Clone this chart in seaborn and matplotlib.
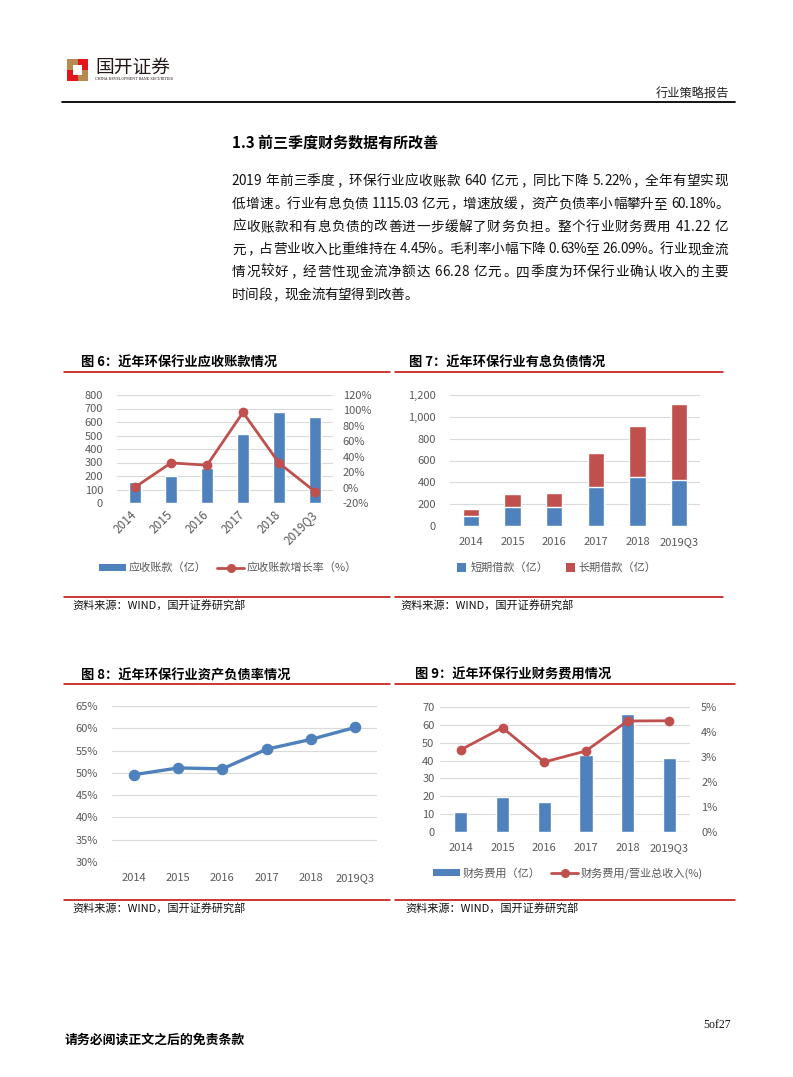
import numpy as np
import pandas as pd
import matplotlib
matplotlib.use("Agg")
import matplotlib.pyplot as plt
import seaborn as sns
from matplotlib.patches import Rectangle, Patch
from matplotlib.lines import Line2D
from matplotlib.ticker import FuncFormatter

# ---------------- data ----------------
years = ["2014", "2015", "2016", "2017", "2018", "2019Q3"]
receivables = [155, 202, 261, 512, 675, 640]              # 应收账款（亿）
receivable_growth = [0.5, 32.0, 29.0, 97.5, 31.8, -5.22]  # 应收账款增长率（%）
short_loans = [95, 178, 175, 355, 447, 425]               # 短期借款（亿）
long_loans = [61, 113, 131, 318, 471, 690]                # 长期借款（亿）
debt_ratio = [49.6, 51.1, 50.9, 55.3, 57.5, 60.18]        # 资产负债率（%）
fin_cost = [11.2, 19.6, 17.0, 42.9, 66.2, 41.22]          # 财务费用（亿）
fin_cost_ratio = [3.29, 4.17, 2.80, 3.24, 4.44, 4.45]     # 财务费用/营业总收入(%)

W, H = 793, 1077
BLUE = "#4F81BD"
RED = "#C0504D"
LINE_RED = "#C00000"
GRID = "#D9D9D9"
TICK = "#595959"

sns.set_theme(style="white")
plt.rcParams["font.family"] = ["Noto Sans CJK SC", "DejaVu Sans"]
plt.rcParams["axes.unicode_minus"] = False

fig = plt.figure(figsize=(W / 100, H / 100), dpi=100)
fig.patch.set_facecolor("white")


def ax_px(l, t, r, b):
    return fig.add_axes([l / W, 1 - b / H, (r - l) / W, (b - t) / H])


def ftext(x, y, s, **kw):
    return fig.text(x / W, 1 - y / H, s, **kw)


def hline(x0, x1, y, color, lw):
    fig.add_artist(Line2D([x0 / W, x1 / W], [1 - y / H, 1 - y / H], color=color,
                          lw=lw, transform=fig.transFigure))


def rect(x, y, w, h, color):
    fig.add_artist(Rectangle((x / W, 1 - (y + h) / H), w / W, h / H, color=color,
                             transform=fig.transFigure, lw=0))


def style(ax, pad_left=8):
    for s in ax.spines.values():
        s.set_visible(False)
    ax.tick_params(axis="both", length=0, labelsize=8, colors=TICK)
    ax.tick_params(axis="y", pad=pad_left)
    ax.set_xlabel("")
    ax.set_ylabel("")
    ax.set_axisbelow(True)
    ax.yaxis.grid(True, color=GRID, lw=0.8)
    ax.xaxis.grid(False)
    ax.set_facecolor("none")


# ---------------- header ----------------
rect(67, 59, 21, 22, "#B88A4F")
rect(67, 70, 11, 11, "#E3141B")
rect(78, 59, 10, 11, "#E3141B")
rect(73, 65, 9, 10, "white")
ftext(95, 67, "国开证券", fontsize=13.5, color="#231815", va="center", ha="left")
ftext(95, 79.5, "CHINA DEVELOPMENT BANK SECURITIES", fontsize=2.4, color="#231815",
      va="center", ha="left", family=["DejaVu Serif"])
ftext(729, 93, "行业策略报告", fontsize=8.8, color="#222222", va="center", ha="right")
hline(62, 735, 101.5, "black", 1.3)

# ---------------- section heading and body ----------------
ftext(232, 143, "1.3 前三季度财务数据有所改善", fontsize=10.8, fontweight="bold",
      va="center", ha="left", color="black")

PUNCT = "，。：、"


def adv(c, em):
    if ord(c) > 0x2000:
        return em
    if c == " ":
        return 0.3 * em
    if c in ".,":
        return 0.3 * em
    if c == "%":
        return 0.85 * em
    return 0.5 * em


def justify(s, x0, x1, y, size):
    em = size * 100 / 72
    a = [adv(c, em) for c in s]
    gap = (x1 - x0 - sum(a)) / (len(s) - 1)
    x = x0
    for c, w in zip(s, a):
        if c != " ":
            if c in PUNCT:
                ftext(x + 0.08 * em, y, c, ha="left", va="center", fontsize=size,
                      color="#111111")
            else:
                ftext(x + w / 2, y, c, ha="center", va="center", fontsize=size,
                      color="#111111")
        x += w + gap


body = [
    "2019 年前三季度，环保行业应收账款 640 亿元，同比下降 5.22%，全年有望实现",
    "低增速。行业有息负债 1115.03 亿元，增速放缓，资产负债率小幅攀升至 60.18%。",
    "应收账款和有息负债的改善进一步缓解了财务负担。整个行业财务费用 41.22 亿",
    "元，占营业收入比重维持在 4.45%。毛利率小幅下降 0.63%至 26.09%。行业现金流",
    "情况较好，经营性现金流净额达 66.28 亿元。四季度为环保行业确认收入的主要",
    "时间段，现金流有望得到改善。",
]
body_y = [181, 203.8, 226.6, 249.4, 272.2, 295]
for i, (line, y) in enumerate(zip(body, body_y)):
    x1 = 728 if i < len(body) - 1 else 232 + 13.2 * 14
    justify(line, 232, x1, y, 9.8)


# ---------------- frame helpers ----------------
def frame(title, tx, ty, x0, x1, src_x, line_y, src_line_y):
    ftext(tx, ty, title, fontsize=9.5, fontweight="bold", va="center", ha="left",
          color="black")
    hline(x0, x1, line_y, LINE_RED, 1.1)
    hline(x0, x1, src_line_y, LINE_RED, 1.1)
    ftext(src_x, src_line_y + 8.5, "资料来源：WIND，国开证券研究部", fontsize=8,
          va="center", ha="left", color="#111111")


frame("图 6：近年环保行业应收账款情况", 81, 363, 64, 390, 72, 372, 596.5)
frame("图 7：近年环保行业有息负债情况", 409, 363, 395, 723, 400, 372, 596.5)
frame("图 8：近年环保行业资产负债率情况", 81, 675, 64, 390, 72, 684, 899.5)
frame("图 9：近年环保行业财务费用情况", 415, 675, 395, 735, 405, 684, 899.5)

pct = FuncFormatter(lambda v, p: f"{v:.0f}%")

# ---------------- chart 6 ----------------
ax6 = ax_px(117, 395, 333, 503)
sns.barplot(x=years, y=receivables, color=BLUE, saturation=1, width=0.32, ax=ax6)
style(ax6, pad_left=10)
ax6.set_ylim(0, 800)
ax6.set_yticks(range(0, 801, 100))
ax6b = ax6.twinx()
sns.pointplot(x=years, y=receivable_growth, color=RED, markers="o", markersize=5.5,
              linewidth=2.0, ax=ax6b)
for s in ax6b.spines.values():
    s.set_visible(False)
ax6b.set_ylim(-20, 120)
ax6b.set_yticks(range(-20, 121, 20))
ax6b.yaxis.set_major_formatter(pct)
ax6b.tick_params(axis="y", length=0, labelsize=8, colors=TICK, pad=7)
ax6b.set_ylabel("")
ax6.set_xlim(-0.5, 5.5)
ax6b.set_xlim(-0.5, 5.5)
ax6.tick_params(axis="x", pad=7, labelsize=8.5)
for lab in ax6.get_xticklabels():
    lab.set_rotation(45)
    lab.set_ha("right")
    lab.set_va("center")
    lab.set_rotation_mode("anchor")
fig.legend(handles=[Patch(facecolor=BLUE, edgecolor="none"),
                    Line2D([], [], color=RED, lw=2.0, marker="o", markersize=5.5)],
           labels=["应收账款（亿）", "应收账款增长率（%）"],
           loc="center", bbox_to_anchor=(228 / W, 1 - 568 / H), ncol=2, frameon=False,
           fontsize=8, handlelength=2.4, handleheight=0.6, handletextpad=0.25,
           columnspacing=1.0, labelcolor=TICK)

# ---------------- chart 7 ----------------
ax7 = ax_px(450, 395, 700, 526)
totals = [s + l for s, l in zip(short_loans, long_loans)]
sns.barplot(x=years, y=totals, color=RED, saturation=1, width=0.4, ax=ax7)
sns.barplot(x=years, y=short_loans, color=BLUE, saturation=1, width=0.4, ax=ax7)
style(ax7, pad_left=10)
ax7.set_ylim(0, 1200)
ax7.set_yticks(range(0, 1201, 200))
ax7.yaxis.set_major_formatter(FuncFormatter(lambda v, p: f"{v:,.0f}"))
ax7.set_xlim(-0.5, 5.5)
ax7.tick_params(axis="x", pad=8)
fig.legend(handles=[Patch(facecolor=BLUE, edgecolor="none"),
                    Patch(facecolor=RED, edgecolor="none")],
           labels=["短期借款（亿）", "长期借款（亿）"],
           loc="center", bbox_to_anchor=(557 / W, 1 - 568 / H), ncol=2, frameon=False,
           fontsize=8, handlelength=0.8, handleheight=0.8, handletextpad=0.35,
           columnspacing=1.6, labelcolor=TICK)

# ---------------- chart 8 ----------------
ax8 = ax_px(112, 706, 377, 862)
sns.pointplot(x=years, y=debt_ratio, color=BLUE, markers="o", markersize=6.5,
              linewidth=2.4, ax=ax8)
style(ax8, pad_left=10)
ax8.set_ylim(30, 65)
ax8.set_yticks(range(30, 66, 5))
ax8.yaxis.set_major_formatter(pct)
ax8.set_xlim(-0.5, 5.5)
ax8.tick_params(axis="x", pad=8)

# ---------------- chart 9 ----------------
ax9 = ax_px(440, 707, 690, 832)
sns.barplot(x=years, y=fin_cost, color=BLUE, saturation=1, width=0.32, ax=ax9)
style(ax9, pad_left=4)
ax9.set_ylim(0, 70)
ax9.set_yticks(range(0, 71, 10))
ax9b = ax9.twinx()
sns.pointplot(x=years, y=fin_cost_ratio, color=RED, markers="o", markersize=5.5,
              linewidth=2.0, ax=ax9b)
for s in ax9b.spines.values():
    s.set_visible(False)
ax9b.set_ylim(0, 5)
ax9b.set_yticks(range(0, 6))
ax9b.yaxis.set_major_formatter(pct)
ax9b.tick_params(axis="y", length=0, labelsize=8, colors=TICK, pad=8)
ax9b.set_ylabel("")
ax9.set_xlim(-0.5, 5.5)
ax9b.set_xlim(-0.5, 5.5)
ax9.tick_params(axis="x", pad=8)
fig.legend(handles=[Patch(facecolor=BLUE, edgecolor="none"),
                    Line2D([], [], color=RED, lw=2.0, marker="o", markersize=5.5)],
           labels=["财务费用（亿）", "财务费用/营业总收入(%)"],
           loc="center", bbox_to_anchor=(568 / W, 1 - 873 / H), ncol=2, frameon=False,
           fontsize=8, handlelength=2.4, handleheight=0.6, handletextpad=0.25,
           columnspacing=1.0, labelcolor=TICK)

# ---------------- footer ----------------
ftext(703, 1025, "5of27", fontsize=8.5, va="center", ha="left", color="#111111",
      family=["Liberation Serif"])
ftext(65, 1040, "请务必阅读正文之后的免责条款", fontsize=9.3, fontweight="bold",
      va="center", ha="left", color="black")

fig.savefig("out.png", dpi=100, facecolor="white")
